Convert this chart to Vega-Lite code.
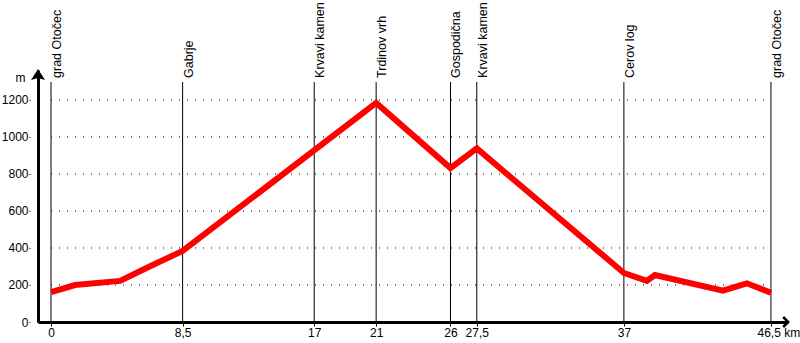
{
  "$schema": "https://vega.github.io/schema/vega-lite/v6.json",
  "width": 750,
  "height": 252,
  "autosize": {"type": "none"},
  "padding": {"left": 38, "top": 70, "right": 12, "bottom": 21},
  "background": "white",
  "config": {
    "view": {"stroke": null},
    "font": "Liberation Sans",
    "axis": {"labelFont": "Liberation Sans", "labelFontSize": 12, "labelColor": "black", "titleFont": "Liberation Sans", "titleFontWeight": "normal", "titleColor": "black"}
  },
  "datasets": {
    "profile": [
      {"km": 0, "elev": 162},
      {"km": 1.55, "elev": 200},
      {"km": 4.46, "elev": 222},
      {"km": 6.5, "elev": 305},
      {"km": 8.5, "elev": 384},
      {"km": 21, "elev": 1184},
      {"km": 25.8, "elev": 832},
      {"km": 27.5, "elev": 938},
      {"km": 37, "elev": 265},
      {"km": 38.48, "elev": 222},
      {"km": 39.0, "elev": 254},
      {"km": 43.4, "elev": 169},
      {"km": 44.94, "elev": 209},
      {"km": 46.5, "elev": 158}
    ],
    "places": [
      {"km": 0, "name": "grad Otočec"},
      {"km": 8.5, "name": "Gabrje"},
      {"km": 17, "name": "Krvavi kamen"},
      {"km": 21, "name": "Trdinov vrh"},
      {"km": 25.8, "name": "Gospodična"},
      {"km": 27.5, "name": "Krvavi kamen"},
      {"km": 37, "name": "Cerov log"},
      {"km": 46.5, "name": "grad Otočec"}
    ],
    "grid": [
      {"elev": 200}, {"elev": 400}, {"elev": 600}, {"elev": 800}, {"elev": 1000}, {"elev": 1200}
    ],
    "yarrow": [{"km": -0.84, "elev": 1330}],
    "xarrow": [{"km": 47.45, "elev": 0}]
  },
  "layer": [
    {
      "data": {"name": "grid"},
      "mark": {"type": "rule", "color": "black", "strokeWidth": 1, "strokeDash": [1, 7]},
      "encoding": {
        "x": {"datum": 0, "type": "quantitative"},
        "x2": {"datum": 46.5},
        "y": {"field": "elev", "type": "quantitative"}
      }
    },
    {
      "data": {"name": "places"},
      "mark": {"type": "rule", "color": "black", "strokeWidth": 1},
      "encoding": {
        "x": {"field": "km", "type": "quantitative"},
        "y": {"datum": 0, "type": "quantitative"},
        "y2": {"datum": 1297}
      }
    },
    {
      "data": {"name": "places"},
      "mark": {"type": "text", "angle": 270, "align": "left", "baseline": "top", "fontSize": 12.5, "font": "Liberation Sans", "color": "black"},
      "encoding": {
        "x": {"field": "km", "type": "quantitative"},
        "y": {"datum": 1319, "type": "quantitative"},
        "text": {"field": "name"}
      }
    },
    {
      "data": {"name": "profile"},
      "mark": {"type": "line", "color": "#ff0000", "strokeWidth": 6, "strokeJoin": "miter"},
      "encoding": {
        "x": {
          "field": "km", "type": "quantitative",
          "scale": {"domain": [-0.84, 47.6], "nice": false, "zero": false},
          "axis": {
            "title": null,
            "values": [0, 8.5, 17, 21, 25.8, 27.5, 37, 46.5],
            "labelExpr": "datum.value == 25.8 ? '26' : replace(toString(datum.value), '.', ',') + (datum.value == 46.5 ? ' km' : '')",
            "labelAlign": {"condition": {"test": "datum.value == 46.5", "value": "left"}, "value": "center"},
            "labelOffset": {"condition": {"test": "datum.value == 46.5", "value": -14}, "value": 0},
            "domainColor": "black", "domainWidth": 3,
            "tickColor": "black", "tickSize": 4, "tickWidth": 1,
            "labelPadding": 1, "grid": false, "labelFlush": false, "labelOverlap": false
          }
        },
        "y": {
          "field": "elev", "type": "quantitative",
          "scale": {"domain": [0, 1362], "nice": false},
          "axis": {
            "title": "m", "titleAngle": 0, "titleX": -18, "titleY": 7, "titleAlign": "center", "titleBaseline": "middle", "titleFontSize": 12,
            "values": [0, 200, 400, 600, 800, 1000, 1200],
            "format": "d",
            "domainColor": "black", "domainWidth": 3,
            "tickColor": "black", "tickSize": 9, "tickWidth": 1, "tickDash": [1, 7],
            "labelPadding": 1, "grid": false, "labelFlush": false
          }
        }
      }
    },
    {
      "data": {"name": "yarrow"},
      "mark": {"type": "point", "shape": "M0,-1L1,0.6L0,0.3L-1,0.6Z", "filled": true, "color": "black", "size": 196, "opacity": 1},
      "encoding": {
        "x": {"field": "km", "type": "quantitative"},
        "y": {"field": "elev", "type": "quantitative"}
      }
    },
    {
      "data": {"name": "xarrow"},
      "mark": {"type": "point", "shape": "M-0.5,-1L0.5,0L-0.5,1", "filled": false, "color": "black", "strokeWidth": 2.5, "size": 100, "opacity": 1},
      "encoding": {
        "x": {"field": "km", "type": "quantitative"},
        "y": {"field": "elev", "type": "quantitative"}
      }
    }
  ]
}
